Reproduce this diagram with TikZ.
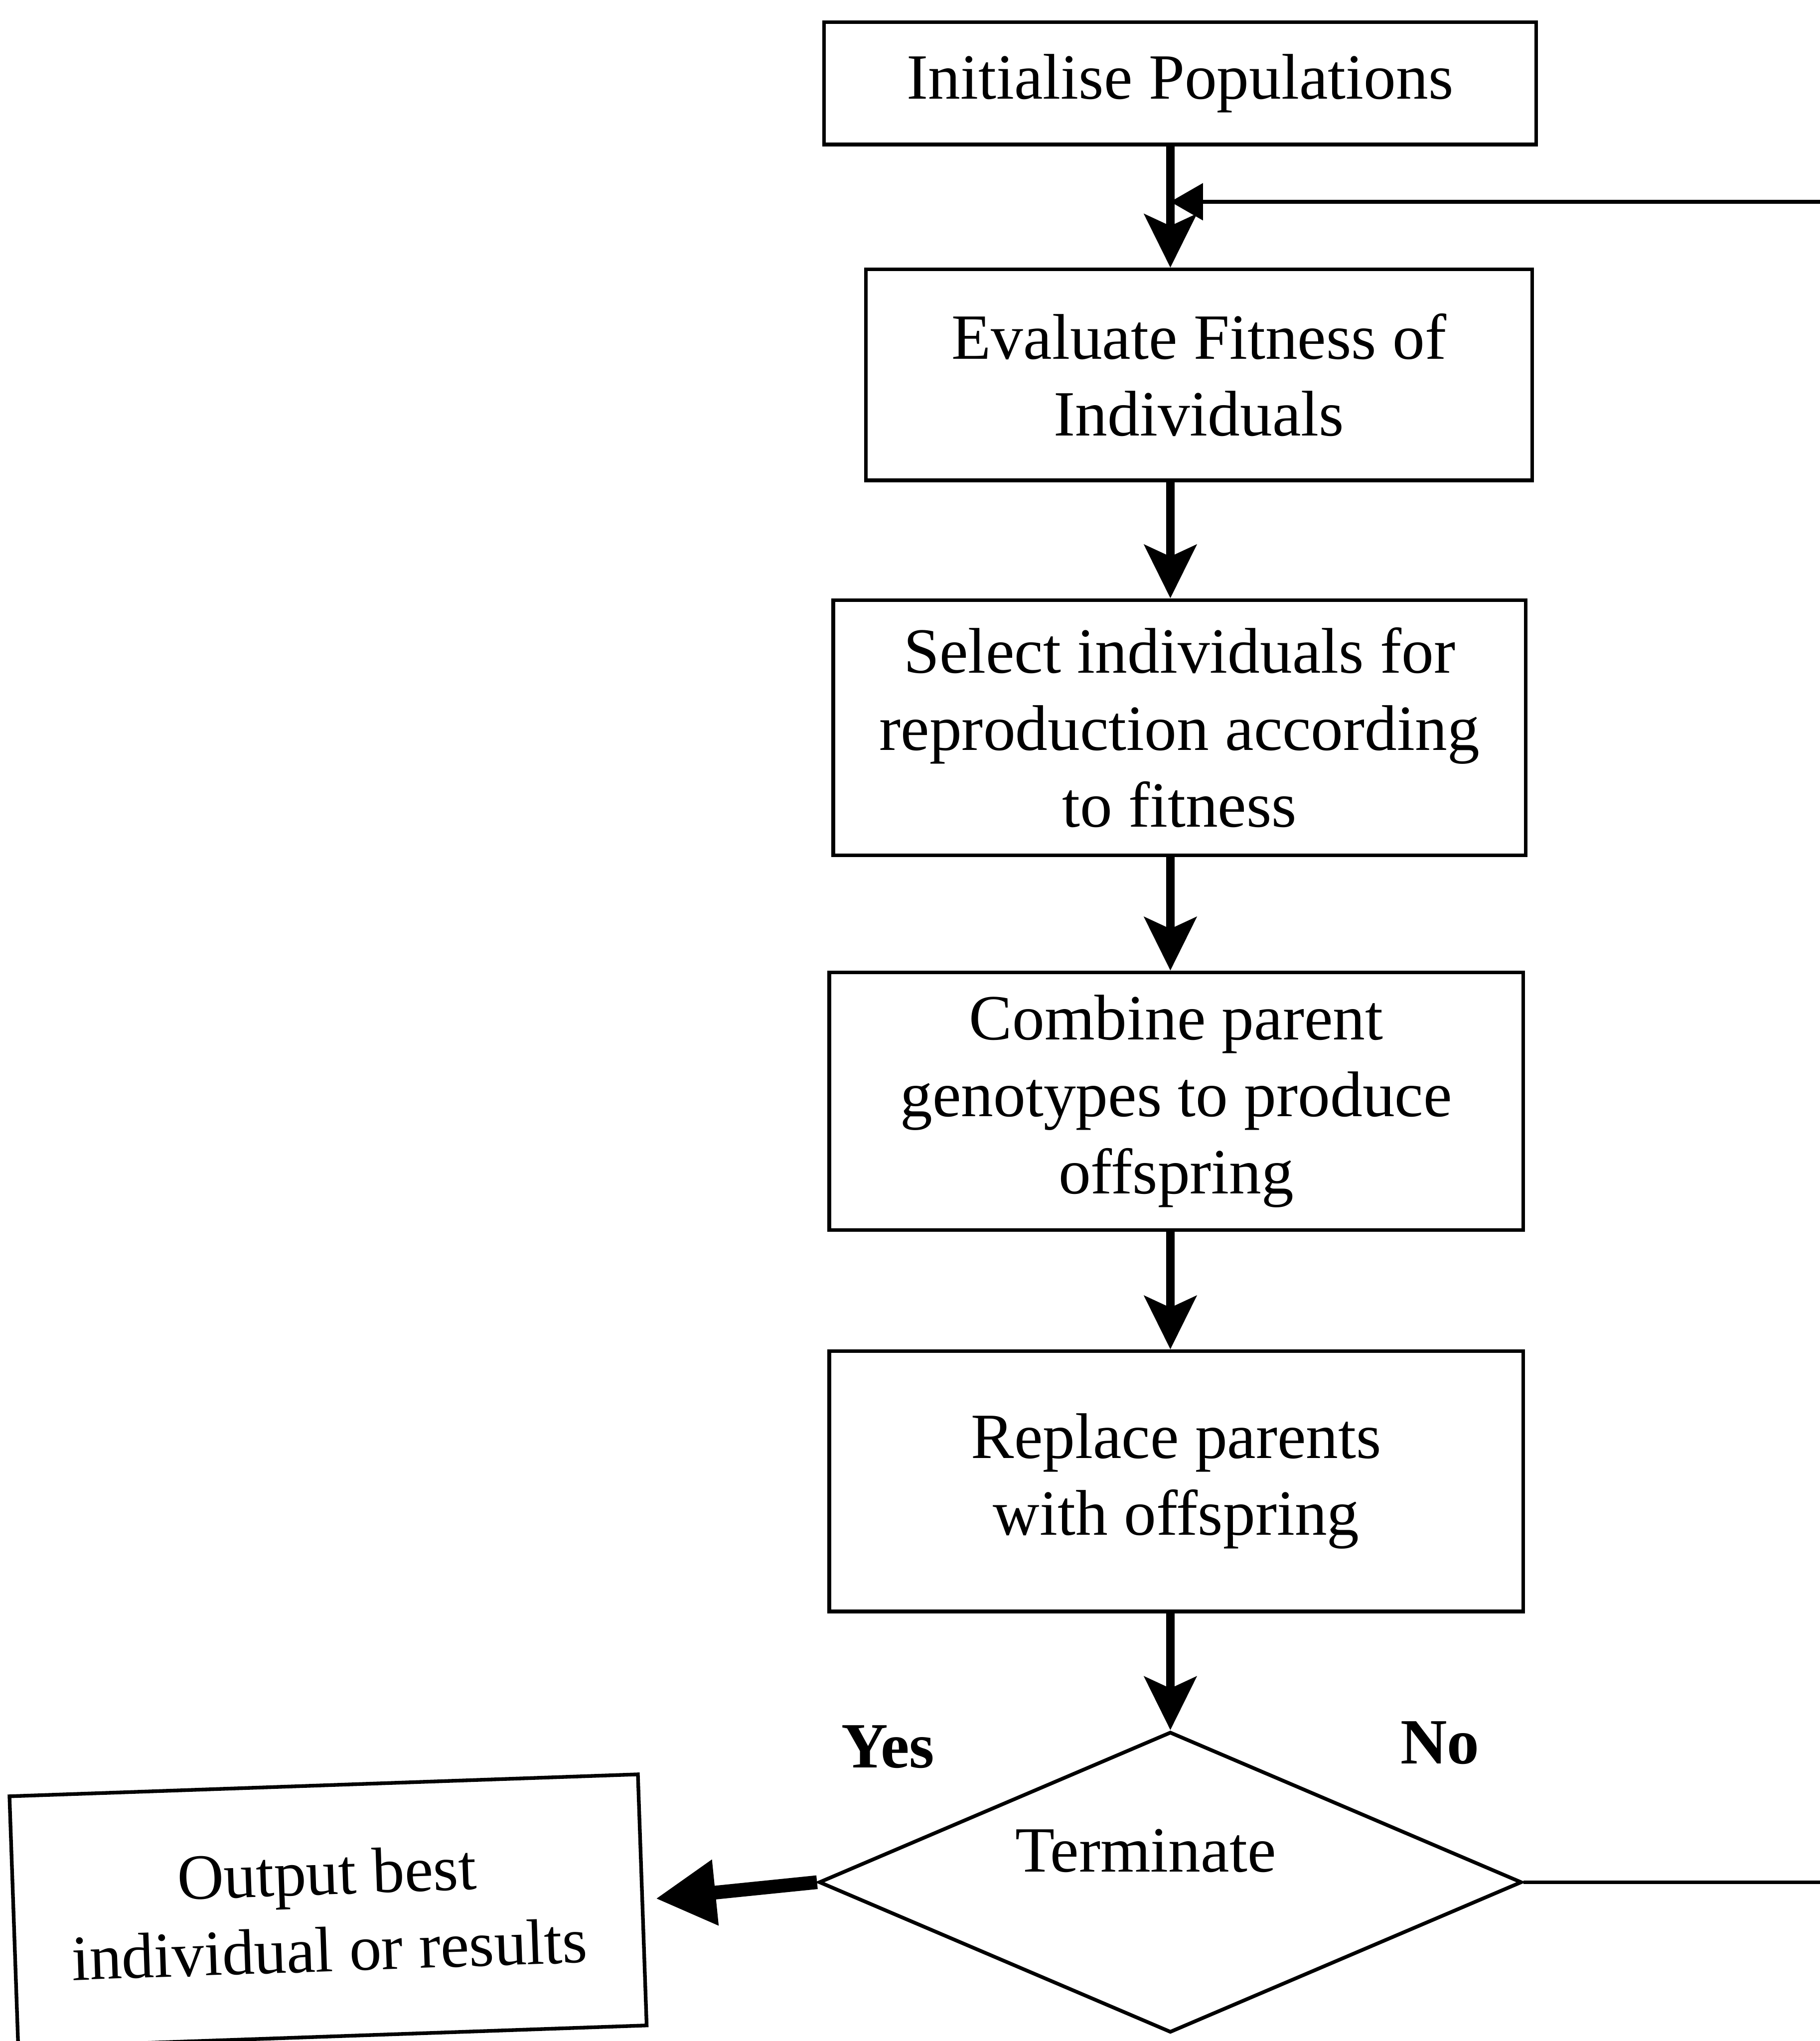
\documentclass[tikz,border=0pt]{standalone}
\usepackage{fontspec}
\setmainfont{Liberation Serif}
\usepackage{tikz}
\usetikzlibrary{arrows.meta}
\usetikzlibrary{shapes.geometric}

\begin{document}
\begin{tikzpicture}[box/.style = {draw, rectangle, line width=0.8pt, align=center, inner sep=0pt, font=\fontsize{14.1}{16.8}\selectfont},
	flow/.style = {line width=1.8pt, -{Stealth[length=0.41cm,width=0.4cm,inset=0.09cm]}},
	loopback/.style = {line width=0.8pt, -{Triangle[length=0.25cm,width=0.28cm]}},
	yesflow/.style = {line width=3pt, shorten >=0.09cm, -{Triangle[length=0.46cm,width=0.48cm]}}]
	\clip (0,0) rectangle (13.98,-15.68);
	\begin{scope}[every node/.style={box}]
		\node[minimum width=5.47cm, minimum height=0.94cm] (init) at (9.065,-0.64) {Initialise Populations};
		\node[minimum width=5.12cm, minimum height=1.62cm] (eval) at (9.21,-2.88) {Evaluate Fitness of\\ Individuals};
		\node[minimum width=5.32cm, minimum height=1.96cm] (select) at (9.06,-5.59) {Select individuals for\\ reproduction according\\ to fitness};
		\node[minimum width=5.33cm, minimum height=1.98cm] (combine) at (9.035,-8.46) {Combine parent\\ genotypes to produce\\ offspring};
		\node[minimum width=5.33cm, minimum height=2.00cm] (replace) at (9.035,-11.38) {Replace parents\\ with offspring};
		\node[rotate=2, minimum width=4.83cm, minimum height=1.93cm] (out) at (2.52,-14.68) {Output best\\ individual or results};
	\end{scope}
	\node[draw, diamond, aspect=2.34, line width=0.8pt, inner sep=0pt, minimum width=5.40cm, minimum height=2.31cm,
		label={[xshift=-0.19cm, yshift=0.24cm, font=\fontsize{14.1}{16.8}\selectfont]center:Terminate}] (term) at (8.99,-14.46) {};
	\node[font=\fontsize{14.1}{16.8}\selectfont\bfseries] (yes) at (6.82,-13.42) {Yes};
	\node[font=\fontsize{14.1}{16.8}\selectfont\bfseries] (no) at (11.06,-13.39) {No};
	\coordinate (join) at (term.north |- 0,-1.55);
	% main loop, top to bottom
	\draw[flow] (init.south -| term.north) -- (eval.north -| term.north);
	\draw[flow] (eval.south -| term.north) -- (select.north -| term.north);
	\draw[flow] (select.south -| term.north) -- (combine.north -| term.north);
	\draw[flow] (combine.south -| term.north) -- (replace.north -| term.north);
	\draw[flow] (replace.south -| term.north) -- (term.north);
	% back to the evaluation step (runs off the right edge)
	\draw[loopback] (term.east) -- ++(3.5,0) |- (join);
	\draw[yesflow] (term.west) -- (out.east);
\end{tikzpicture}
\end{document}
